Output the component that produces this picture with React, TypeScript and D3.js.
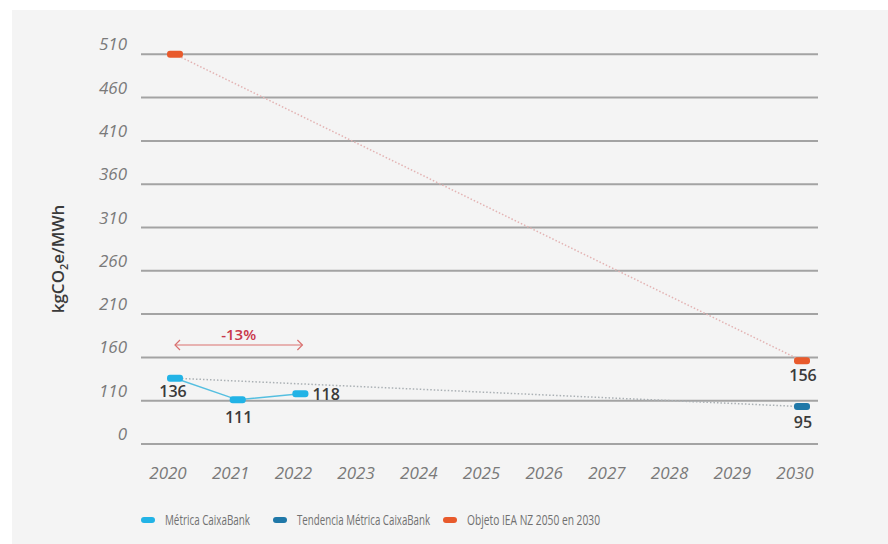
import React, { useLayoutEffect, useRef, useState } from "react";
import * as d3 from "d3";

const years = [2020, 2021, 2022, 2023, 2024, 2025, 2026, 2027, 2028, 2029, 2030];
const yTicks = [0, 110, 160, 210, 260, 310, 360, 410, 460, 510];

const metricaYears = [2020, 2021, 2022];
const metricaValues = [136, 111, 118];

const tendenciaYears = [2020, 2030];
const tendenciaValues = [136, 95];

const objetivoYears = [2020, 2030];
const objetivoValues = [510, 156];

const legendLabels = ["Métrica CaixaBank", "Tendencia Métrica CaixaBank", "Objeto IEA NZ 2050 en 2030"];
const colors = ["#22b3e6", "#1f78a8", "#e85a2c"];

const W = 888;
const H = 544;

export default function App() {
  const x = d3.scaleLinear().domain([2020, 2030]).range([175, 802]);
  const y = d3
    .scaleLinear()
    .domain(yTicks)
    .range(yTicks.map((_, i) => 444 - i * 43.3));

  const line = d3
    .line<[number, number]>()
    .x((d) => x(d[0]))
    .y((d) => y(d[1]));

  const metrica = metricaYears.map((yr, i) => [yr, metricaValues[i]] as [number, number]);
  const tendencia = tendenciaYears.map((yr, i) => [yr, tendenciaValues[i]] as [number, number]);
  const objetivo = objetivoYears.map((yr, i) => [yr, objetivoValues[i]] as [number, number]);

  const font = "'Open Sans', 'Noto Sans', sans-serif";
  const marker = (cx: number, cy: number, color: string, key: string, w = 16, h = 7) => (
    <rect key={key} x={cx - w / 2} y={cy - h / 2} width={w} height={h} rx={3} fill={color} />
  );

  const ax0 = x(2020);
  const ax1 = x(2022) + 2;
  const ay = 345;

  const legendX = [148, 280, 450];
  const legendW = [85, 133, 133];

  const refs = useRef<(SVGTextElement | null)[]>([]);
  const [scales, setScales] = useState<number[]>([0.75, 0.75, 0.75]);
  useLayoutEffect(() => {
    const s = legendLabels.map((_, i) => {
      const el = refs.current[i];
      if (!el) return 0.75;
      const len = el.getComputedTextLength();
      return len > 0 ? legendW[i] / len : 0.75;
    });
    setScales(s);
  }, []);

  return (
    <svg
      width={W}
      height={H}
      style={{ position: "absolute", left: 0, top: 0, display: "block" }}
      fontFamily={font}
    >
      <rect x={0} y={0} width={W} height={H} fill="#ffffff" />
      <rect x={12} y={10} width={W - 12} height={H - 10} fill="#f4f4f4" />

      {/* grid */}
      {yTicks.map((t) => (
        <line key={"g" + t} x1={141} x2={818} y1={y(t)} y2={y(t)} stroke="#a3a3a3" strokeWidth={2} />
      ))}
      {/* y labels */}
      {yTicks.map((t) => (
        <text
          key={"yl" + t}
          x={127}
          y={y(t) - 4}
          textAnchor="end"
          fontSize={17}
          fontStyle="italic"
          fill="#7a7a7a"
        >
          {t}
        </text>
      ))}
      {/* y title */}
      <text
        transform={`translate(64,259) rotate(-90)`}
        textAnchor="middle"
        fontSize={17}
        fontWeight={600}
        fill="#3a3a3a"
      >
        kgCO<tspan fontSize={11} dy={4}>2</tspan>
        <tspan dy={-4}>e/MWh</tspan>
      </text>
      {/* x labels */}
      {years.map((yr) => (
        <text
          key={"xl" + yr}
          x={x(yr) - 7}
          y={479}
          textAnchor="middle"
          fontSize={17}
          fontStyle="italic"
          fill="#7a7a7a"
        >
          {yr}
        </text>
      ))}

      {/* dotted lines */}
      <path d={line(objetivo) || ""} fill="none" stroke="#e3b3b3" strokeWidth={1.5} strokeDasharray="1.5 2" />
      <path d={line(tendencia) || ""} fill="none" stroke="#aab0b4" strokeWidth={1.5} strokeDasharray="1.5 2" />
      {/* metrica line */}
      <path d={line(metrica) || ""} fill="none" stroke="#55bfe0" strokeWidth={1.5} />

      {/* markers */}
      {metrica.map((d, i) => marker(x(d[0]), y(d[1]), colors[0], "m" + i))}
      {marker(x(tendencia[1][0]), y(tendencia[1][1]), colors[1], "t")}
      {objetivo.map((d, i) => marker(x(d[0]), y(d[1]), colors[2], "o" + i))}

      {/* value labels */}
      <g fontSize={16} fontWeight={600} fill="#3a3a3a">
        <text x={x(metrica[0][0]) - 2} y={y(metrica[0][1]) + 19} textAnchor="middle">
          {metricaValues[0]}
        </text>
        <text x={x(metrica[1][0]) + 1} y={y(metrica[1][1]) + 23} textAnchor="middle">
          {metricaValues[1]}
        </text>
        <text x={x(metrica[2][0]) + 12} y={y(metrica[2][1]) + 6} textAnchor="start">
          {metricaValues[2]}
        </text>
        <text x={x(objetivo[1][0]) + 1} y={y(objetivo[1][1]) + 20} textAnchor="middle">
          {objetivoValues[1]}
        </text>
        <text x={x(tendencia[1][0]) + 1} y={y(tendencia[1][1]) + 21} textAnchor="middle">
          {tendenciaValues[1]}
        </text>
      </g>

      {/* -13% annotation */}
      <g stroke="#d9706f" strokeWidth={1.2} fill="none">
        <line x1={ax0} x2={ax1} y1={ay} y2={ay} />
        <path d={`M${ax0 + 5},${ay - 5} L${ax0},${ay} L${ax0 + 5},${ay + 5}`} />
        <path d={`M${ax1 - 5},${ay - 5} L${ax1},${ay} L${ax1 - 5},${ay + 5}`} />
      </g>
      <text x={(ax0 + ax1) / 2} y={340} textAnchor="middle" fontSize={15} fontWeight={600} fill="#c8374a">
        -13%
      </text>

      {/* legend */}
      {legendLabels.map((lab, i) => {
        const lx = legendX[i];
        return (
          <g key={"lg" + i}>
            <rect x={lx - 7} y={517} width={14} height={6} rx={3} fill={colors[i]} />
            <g transform={`translate(${lx + 17},525) scale(${scales[i]},1)`}>
              <text
                ref={(el) => {
                  refs.current[i] = el;
                }}
                x={0}
                y={0}
                fontSize={14}
                fill="#707070"
              >
                {lab}
              </text>
            </g>
          </g>
        );
      })}
    </svg>
  );
}
